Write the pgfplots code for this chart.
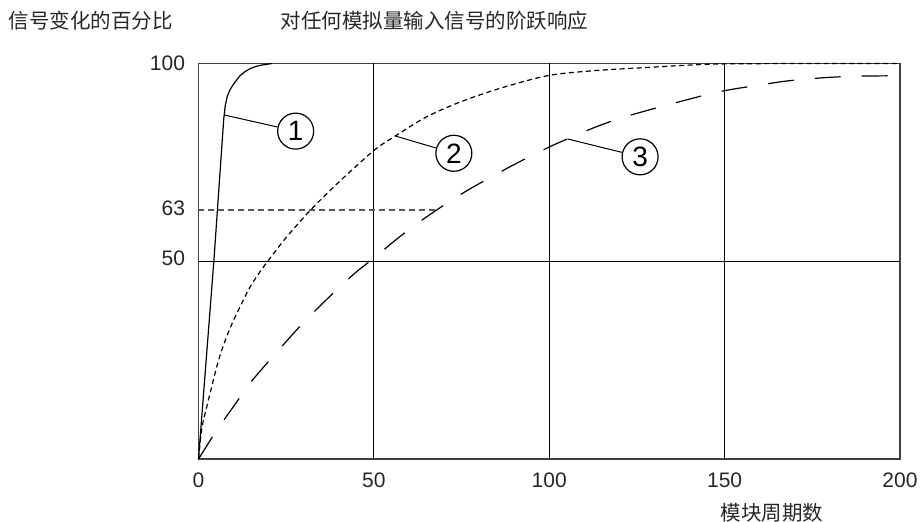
\documentclass[border=0pt]{standalone}
\usepackage{fontspec}
\setmainfont{Liberation Sans}
\newfontfamily\cjk{Noto Sans CJK SC}
\usepackage{pgfplots}
\pgfplotsset{compat=1.18}
\begin{document}
\begin{tikzpicture}
\useasboundingbox (-198.5bp,-63bp) rectangle (722.5bp,459bp);
\begin{axis}[
  at={(0,0)}, anchor=south west,
  width=701.5bp, height=395.5bp, scale only axis,
  xmin=0, xmax=200, ymin=0, ymax=100,
  axis line style={black!75, line width=1.2bp},
  xtick={0,50,100,150,200},
  ytick={50,63,100},
  yticklabels={\raisebox{7bp}{50},\raisebox{3bp}{63},100},
  major tick length=0pt,
  tick label style={font=\fontsize{21bp}{25bp}\selectfont, text=black!85},
  xticklabel style={yshift=-10.5bp},
  yticklabel style={xshift=-10bp},
  /pgf/number format/assume math mode=true,
  clip=false,
]
% grid lines
\draw[black, line width=1.2bp] (axis cs:50,0) -- (axis cs:50,100);
\draw[black, line width=1.2bp] (axis cs:100,0) -- (axis cs:100,100);
\draw[black, line width=1.2bp] (axis cs:150,0) -- (axis cs:150,100);
\draw[black, line width=1.2bp] (axis cs:0,50) -- (axis cs:200,50);
% 63 % reference line
\addplot[black!65, line width=1.4bp, dash pattern=on 6bp off 4bp] coordinates {(0,63) (68,63)};
% curve 1
\addplot[black, line width=1.2bp] coordinates {
(0,0) (4.4,50.3) (7.2,86) (7.6,89.2) (8.2,91.7) (9.0,93.4) (10,94.8) (11.8,96.9) (13.2,97.9) (14.7,98.7) (16.5,99.3) (18,99.6) (21,100)
};
% curve 2
\addplot[black, line width=1.2bp, smooth, dash pattern=on 5bp off 3.5bp] coordinates {
(0,0) (1,8) (2.3,13) (3.3,16.6) (4.7,21.6) (6,25.8) (8,30.9) (10,35.1) (12.3,39.3) (14.7,43.5) (17.5,47.3) (20,50.3) (25,56) (32,63) (40,70) (50,78) (56,81.6) (65,86.5) (75,90.4) (87,94) (100,97) (113,98.2) (126,98.9) (140,99.6) (150,99.9) (175,100) (200,100)
};
% curve 3
\addplot[black, line width=1.2bp, smooth, dash pattern=on 26bp off 21bp] coordinates {
(0,0) (5,7) (10,13.3) (15,19.5) (20,24.7) (25,29.7) (30,34.6) (35,39) (40,43.3) (45,47.3) (50,50.8) (55,54.5) (60,58) (65,61.2) (70,64.2) (77,68.1) (83.5,71.3) (89,74) (95.7,77) (101,79.3) (108,82) (113.4,84) (120,86.1) (127,87.9) (134,89.6) (140,91) (147,92.6) (153,93.6) (161,94.7) (167,95.5) (174,96.1) (180,96.5) (188,96.8) (200,96.9)
};
% circled labels
\node[draw, circle, minimum size=36bp, inner sep=0pt, line width=1.2bp, font=\fontsize{28bp}{30bp}\selectfont] (c1) at (axis cs:27.7,82.9) {1};
\node[draw, circle, minimum size=36bp, inner sep=0pt, line width=1.2bp, font=\fontsize{28bp}{30bp}\selectfont] (c2) at (axis cs:72.8,77.3) {2};
\node[draw, circle, minimum size=36bp, inner sep=0pt, line width=1.2bp, font=\fontsize{28bp}{30bp}\selectfont] (c3) at (axis cs:125.9,76.4) {3};
\draw[line width=1bp] (axis cs:7.27,87) -- (c1);
\draw[line width=1bp] (axis cs:56,81.7) -- (c2);
\draw[line width=1bp] (axis cs:105.3,80.9) -- (c3);
\end{axis}
\node[anchor=west, inner sep=0pt, font=\cjk\fontsize{20.5bp}{24bp}\selectfont, text=black!85] at (-190bp,438bp) {信号变化的百分比};
\node[anchor=west, inner sep=0pt, font=\cjk\fontsize{20.5bp}{24bp}\selectfont, text=black!85] at (82bp,438bp) {对任何模拟量输入信号的阶跃响应};
\node[anchor=center, inner sep=0pt, font=\cjk\fontsize{20.5bp}{24bp}\selectfont, text=black!85] at (573.5bp,-54bp) {模块周期数};
\end{tikzpicture}
\end{document}
